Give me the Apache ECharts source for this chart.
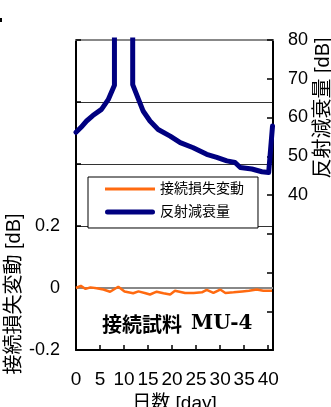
<!DOCTYPE html>
<html><head><meta charset="utf-8">
<script src="https://cdn.jsdelivr.net/npm/echarts@6/dist/echarts.min.js"></script>
<style>html,body{margin:0;padding:0;background:#fff}#c{width:331px;height:407px}</style>
</head><body><div id="c"></div>
<script>
// Connection-loss change [dB] (left axis)
const lossDays = [0,1,2,3,4.3,5.7,7.1,8.8,10.1,11.9,13,14.3,15.4,16.8,18.2,19.6,20.6,22.7,24.5,26.2,27.2,28.6,30,31.1,32.8,34.6,36,37.6,39,40.8];
const lossVals = [0,0.007,-0.003,0.002,-0.001,-0.005,-0.012,0.004,-0.011,-0.017,-0.011,-0.016,-0.021,-0.012,-0.017,-0.021,-0.009,-0.016,-0.016,-0.014,-0.006,-0.016,-0.005,-0.016,-0.014,-0.011,-0.009,-0.005,-0.009,-0.009];
// Return loss [dB] (right axis); values above 80 run off the top of the plot
const rlDays = [0,1,2.2,3.5,5.3,6.7,8.0,8.0,11.8,11.8,14,15.4,17.1,19.6,21.7,24.4,27.2,29.3,31.4,33.1,34.2,36.6,38.7,40.1,40.9];
const rlVals = [56.2,57.4,59.1,60.5,62.1,64.6,68.3,130,130,68.5,61.6,59.1,56.9,55.2,53.5,52.2,50.5,49.7,48.8,48.4,47.1,46.7,46.0,45.8,57.8];
const seriesNames = ['接続損失変動','反射減衰量'];
const leftLabels = ['-0.2','0','0.2'];
const rightLabels = ['40','50','60','70','80'];
const xLabels = ['0','5','10','15','20','25','30','35','40'];

const SANS = "'Liberation Sans','Noto Sans CJK JP',sans-serif";
const ORANGE = '#ff6a10', NAVY = '#000080';
const chart = echarts.init(document.getElementById('c'));
const fmtIn = (list) => (v) => {
  const s = String(Math.round(v * 1000) / 1000);
  return list.includes(s) ? s : '';
};
chart.setOption({
  animation: false,
  backgroundColor: '#fff',
  grid: { left: 76, top: 40, width: 197, height: 310, containLabel: false, outerBoundsMode: 'none' },
  textStyle: { fontFamily: SANS },
  xAxis: [{
    type: 'value', min: 0, max: 41, interval: 5, position: 'bottom',
    axisLine: { show: true, onZero: false, lineStyle: { color: '#000', width: 2 } },
    axisTick: { show: true, inside: true, length: 5, lineStyle: { color: '#000', width: 1.5 } },
    axisLabel: { margin: 20, fontSize: 19, color: '#000', fontFamily: SANS, formatter: fmtIn(xLabels) },
    splitLine: { show: false },
    name: '日数 [day]', nameLocation: 'middle', nameGap: 40,
    nameTextStyle: { fontSize: 19, color: '#000', fontFamily: SANS }
  }, {
    type: 'value', min: 0, max: 41, position: 'top',
    axisLine: { show: true, onZero: false, lineStyle: { color: '#888', width: 2 } },
    axisTick: { show: false }, axisLabel: { show: false }, splitLine: { show: false }
  }],
  yAxis: [{
    type: 'value', min: -0.2, max: 0.8, interval: 0.2, position: 'left',
    axisLine: { show: true, onZero: false, lineStyle: { color: '#000', width: 2 } },
    axisTick: { show: true, inside: true, length: 5, lineStyle: { color: '#000', width: 1.5 } },
    axisLabel: { margin: 16, fontSize: 18, color: '#000', fontFamily: SANS, formatter: fmtIn(leftLabels) },
    splitLine: { show: true, showMinLine: false, showMaxLine: false, lineStyle: { color: '#333', width: 1 } }
  }, {
    type: 'value', min: 0, max: 80, interval: 10, position: 'right',
    axisLine: { show: true, onZero: false, lineStyle: { color: '#000', width: 2 } },
    axisTick: { show: true, inside: true, length: 6, lineStyle: { color: '#000', width: 1.5 } },
    axisLabel: { margin: 15, fontSize: 18, color: '#000', fontFamily: SANS, formatter: fmtIn(rightLabels) },
    splitLine: { show: false }
  }],
  legend: {
    orient: 'vertical', left: 88, top: 177,
    itemWidth: 50, itemHeight: 14, itemGap: 9,
    padding: [5, 14, 9, 17],
    symbolKeepAspect: true,
    borderColor: '#000', borderWidth: 1, backgroundColor: '#fff',
    textStyle: { fontSize: 14, color: '#000', fontFamily: SANS },
    data: [
      { name: seriesNames[0], icon: 'path://M0,0H50V3H0Z', itemStyle: { color: ORANGE } },
      { name: seriesNames[1], icon: 'path://M2.5,0H47.5A2.5,2.5 0 0 1 47.5,5H2.5A2.5,2.5 0 0 1 2.5,0Z', itemStyle: { color: NAVY } }
    ],
    z: 10
  },
  series: [{
    name: seriesNames[0], type: 'line', xAxisIndex: 0, yAxisIndex: 0,
    data: lossDays.map((d, i) => [d, lossVals[i]]),
    symbol: 'none', lineStyle: { color: ORANGE, width: 2.5 }, itemStyle: { color: ORANGE },
    z: 3,
    markLine: {
      silent: true, symbol: 'none', z: 1, label: { show: false },
      lineStyle: { color: '#888', width: 2, type: 'solid' },
      data: [{ yAxis: 0 }]
    }
  }, {
    name: seriesNames[1], type: 'line', xAxisIndex: 0, yAxisIndex: 1,
    data: rlDays.map((d, i) => [d, rlVals[i]]),
    symbol: 'none', clip: true,
    lineStyle: { color: NAVY, width: 5, join: 'round', cap: 'round' }, itemStyle: { color: NAVY },
    z: 4
  }],
  graphic: [
    { type: 'text', x: 14, y: 294, rotation: Math.PI / 2,
      style: { text: '接続損失変動 [dB]', fontSize: 20, fontFamily: SANS, fill: '#000', align: 'center', verticalAlign: 'middle' } },
    { type: 'text', x: 323, y: 108, rotation: Math.PI / 2,
      style: { text: '反射減衰量 [dB]', fontSize: 20, fontFamily: SANS, fill: '#000', align: 'center', verticalAlign: 'middle' } },
    { type: 'text', x: 102, y: 324, z: 20,
      style: { text: '{a|接続試料}{b|MU-4}', verticalAlign: 'middle', fill: '#000',
        rich: {
          a: { fontSize: 20, fontWeight: 'bold', fontFamily: "'Noto Sans CJK JP',sans-serif", fill: '#000' },
          b: { fontSize: 20, fontWeight: 'bold', fontFamily: "'DejaVu Serif',serif", fill: '#000', padding: [0, 0, 0, 9] }
        } } },
    { type: 'rect', shape: { x: 0, y: 18, width: 2, height: 4 }, style: { fill: '#000' } }
  ]
});
</script>
</body></html>
